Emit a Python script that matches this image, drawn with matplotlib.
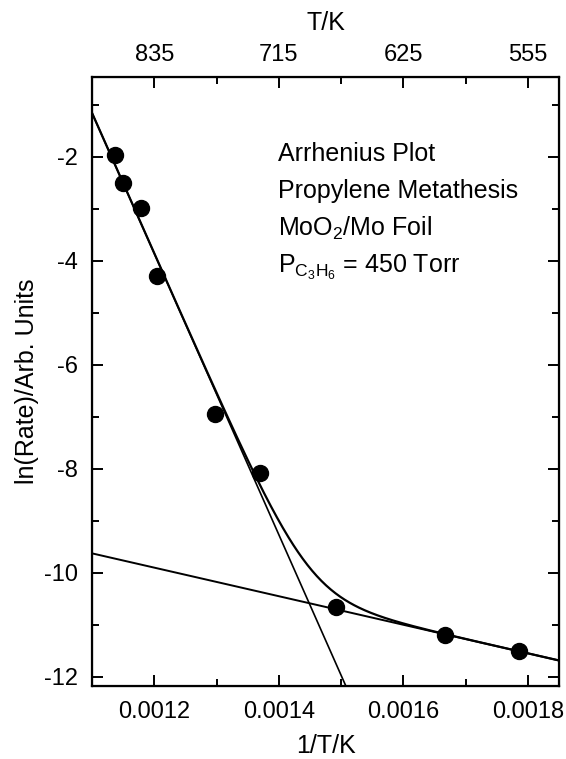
import numpy as np
import matplotlib.pyplot as plt
from matplotlib.ticker import MultipleLocator

plt.rcParams["font.family"] = ["Liberation Sans", "DejaVu Sans"]
plt.rcParams["mathtext.fontset"] = "custom"
plt.rcParams["mathtext.rm"] = "Liberation Sans"
plt.rcParams["mathtext.it"] = "Liberation Sans"
plt.rcParams["axes.unicode_minus"] = False

# Measured rates
inv_T = [0.0011375, 0.0011505, 0.0011788, 0.0012045, 0.0012969,
         0.0013691, 0.0014921, 0.0016663, 0.0017850]
ln_rate = [-1.97, -2.50, -2.99, -4.29, -6.95, -8.08, -10.67, -11.20, -11.50]

# Linear fits: ln(rate) = intercept + slope * (1/T)
steep_intercept, steep_slope = 28.58, -27036.0
flat_intercept, flat_slope = -6.608, -2747.0

bottom_ticks = [0.0012, 0.0014, 0.0016, 0.0018]
top_labels = ["835", "715", "625", "555"]

x_lo, x_hi = 0.0011, 0.00185
y_lo, y_hi = -12.18, -0.47

FS = 18
TICK_FS = 17

fig = plt.figure(figsize=(5.66, 7.59), dpi=100)
ax = fig.add_axes([0.1625, 0.0962, 0.8253, 0.8024])

xs = np.linspace(x_lo, x_hi, 400)
steep = steep_intercept + steep_slope * xs
flat = flat_intercept + flat_slope * xs
combined = np.logaddexp(steep, flat)

ax.plot(xs, steep, color="black", lw=1.2)
ax.plot(xs, flat, color="black", lw=1.4)
ax.plot(xs, combined, color="black", lw=1.6)
ax.plot(inv_T, ln_rate, "o", color="black", markersize=11.5, zorder=5)

ax.set_xlim(x_lo, x_hi)
ax.set_ylim(y_lo, y_hi)
ax.set_xticks(bottom_ticks)
ax.set_xticklabels([f"{t:.4f}" for t in bottom_ticks])
ax.xaxis.set_minor_locator(MultipleLocator(0.0001))
ax.yaxis.set_major_locator(MultipleLocator(2))
ax.yaxis.set_minor_locator(MultipleLocator(1))
ax.tick_params(which="both", direction="in", right=True, width=1.4,
               labelsize=TICK_FS)
ax.tick_params(which="major", length=8)
ax.tick_params(which="minor", length=5)
ax.tick_params(axis="x", pad=11)
ax.tick_params(axis="y", pad=10)
for s in ax.spines.values():
    s.set_linewidth(1.6)

ax.set_xlabel("1/T/K", fontsize=FS, labelpad=8)
ax.set_ylabel("ln(Rate)/Arb. Units", fontsize=FS, labelpad=4)

top = ax.twiny()
top.set_xlim(ax.get_xlim())
top.set_xticks(bottom_ticks)
top.set_xticklabels(top_labels)
top.xaxis.set_minor_locator(MultipleLocator(0.0001))
top.tick_params(which="both", direction="in", width=1.4, labelsize=TICK_FS,
                pad=8)
top.tick_params(which="major", length=8)
top.tick_params(which="minor", length=5)
top.set_xlabel("T/K", fontsize=FS, labelpad=10)

notes = ["Arrhenius Plot", "Propylene Metathesis", r"MoO$_2$/Mo Foil",
         r"P$_{\mathregular{C_3H_6}}$ = 450 Torr"]
for i, line in enumerate(notes):
    ax.text(0.398, 0.862 - i * 0.061, line, transform=ax.transAxes,
            fontsize=FS, ha="left", va="baseline")

fig.savefig("out.png", dpi=100)
